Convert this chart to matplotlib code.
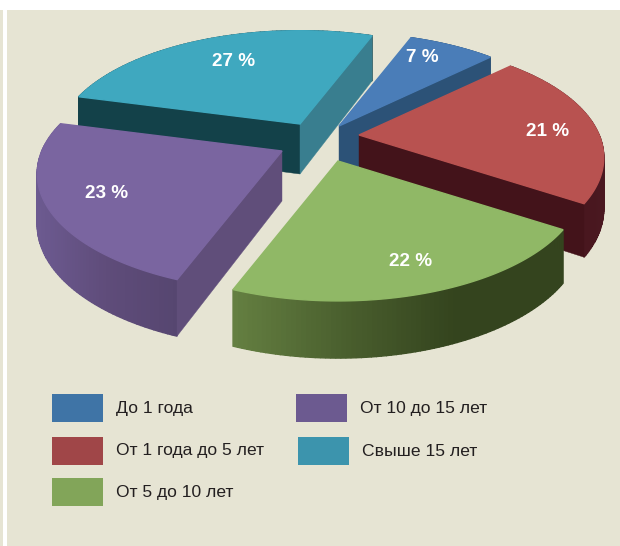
"""Exploded perspective pie of work experience shares"""

import numpy as np
import matplotlib
matplotlib.use("Agg")
import matplotlib.pyplot as plt
from matplotlib.colors import LinearSegmentedColormap
from matplotlib.patches import Rectangle

plt.rcParams['font.family'] = ['Liberation Sans', 'DejaVu Sans']

categories = ["До 1 года", "От 1 года до 5 лет", "От 5 до 10 лет", "От 10 до 15 лет", "Свыше 15 лет"]
values = [7, 21, 22, 23, 27]
value_labels = ["7 %", "21 %", "22 %", "23 %", "27 %"]

top_colors = ["#4a7db8", "#b85250", "#90b866", "#7a65a0", "#3fa8bf"]
legend_colors = ["#3f74a6", "#a04648", "#82a559", "#6c5a90", "#3c94ad"]
# radial walls, None where the wall faces away from the viewer
start_wall = [None, None, None, "#604e7a", "#134149"]
end_wall = ["#2c5277", "#43131a", None, None, "#397e8f"]
# outer wall shading, from the right side of a slice to its left side
arc_walls = [
    ["#2c5277", "#2c5277"],
    ["#4a1820", "#43131a"],
    ["#34441e", "#34441e", "#4a5f2e", "#647f41"],
    ["#564670", "#5f4c7a", "#6c5a90"],
    ["#134149", "#134149"],
]

# layout, pixels of the 620x546 picture
apex = [(339, 126), (359, 135), (338, 161), (282, 151), (300, 124)]
label_pos = [(422, 58), (548, 131), (411, 261), (107, 194), (234, 61)]
legend_pos = [(52, 394, 116), (52, 437, 116), (52, 478, 116), (296, 394, 360), (298, 437, 362)]
draw_order = [4, 0, 1, 3, 2]

first_angle = 68.5
radius = 232
squash = 0.5
persp = 0.2
side_stretch = 0.035
flatten = 0.035
depth = 50


def project(center, theta):
    """Disc angle in degrees to the top face rim and the extrusion there"""
    u = np.cos(np.radians(theta))
    v = np.sin(np.radians(theta))
    w = 1 / (1 + persp * v)
    x = center[0] + radius * u * w * (1 + side_stretch * u ** 2)
    y = center[1] - radius * squash * v * w * (1 - flatten * v ** 2)
    return x, y, depth * w ** 0.6


def draw_slice(ax, i, start, end):
    center = apex[i]
    thetas = np.linspace(start, end, 80)
    x, y, d = project(center, thetas)

    cmap = LinearSegmentedColormap.from_list("wall", arc_walls[i])
    span = x.max() - x.min()
    for j in range(len(x) - 1):
        c = cmap(1 - (0.5 * (x[j] + x[j + 1]) - x.min()) / span)
        ax.fill([x[j], x[j + 1], x[j + 1], x[j]],
                [y[j], y[j + 1], y[j + 1] + d[j + 1], y[j] + d[j]],
                color=c, lw=1)

    if start_wall[i]:
        ax.fill([center[0], x[0], x[0], center[0]],
                [center[1], y[0], y[0] + d[0], center[1] + depth],
                color=start_wall[i], lw=0.3)
    if end_wall[i]:
        ax.fill([center[0], x[-1], x[-1], center[0]],
                [center[1], y[-1], y[-1] + d[-1], center[1] + depth],
                color=end_wall[i], lw=0.3)

    ax.fill(np.r_[center[0], x], np.r_[center[1], y], color=top_colors[i], lw=1)


fig = plt.figure(figsize=(6.2, 5.46), dpi=100, facecolor="#ffffff")
ax = fig.add_axes([0, 0, 1, 1])
ax.set_xlim(0, 620)
ax.set_ylim(546, 0)
ax.axis("off")

ax.add_patch(Rectangle((0, 10), 3, 536, color="#e6e4d3", lw=0))
ax.add_patch(Rectangle((7, 10), 613, 536, color="#e6e4d3", lw=0))

angles = first_angle - np.cumsum(np.r_[0, values]) * 3.6
for i in draw_order:
    draw_slice(ax, i, angles[i], angles[i + 1])

for i in range(len(values)):
    ax.text(label_pos[i][0], label_pos[i][1], value_labels[i], color="white",
            fontsize=13.6, fontweight="bold", ha="center", va="center")

for i, (sx, sy, tx) in enumerate(legend_pos):
    ax.add_patch(Rectangle((sx, sy), 51, 28, color=legend_colors[i], lw=0))
    ax.text(tx, sy + 14, categories[i], color="#231f20", fontsize=12.6, ha="left", va="center")

fig.savefig("out.png", dpi=100, facecolor=fig.get_facecolor())
